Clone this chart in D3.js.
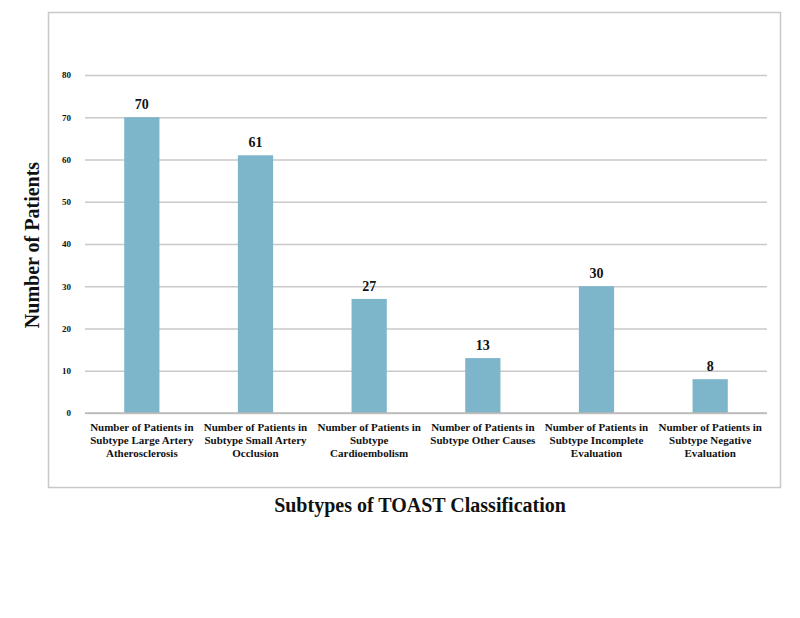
<!DOCTYPE html>
<html><head><meta charset="utf-8">
<script src="https://cdn.jsdelivr.net/npm/d3@7"></script>
<style>body{margin:0;background:#fff}svg{display:block}text{font-family:"Liberation Serif","Times New Roman",serif;font-weight:bold;fill:#111}</style>
</head><body><svg id="c" width="800" height="618"></svg>
<script>
const categories = [
  ["Number of Patients in","Subtype Large Artery","Atherosclerosis"],
  ["Number of Patients in","Subtype Small Artery","Occlusion"],
  ["Number of Patients in","Subtype","Cardioembolism"],
  ["Number of Patients in","Subtype Other Causes"],
  ["Number of Patients in","Subtype Incomplete","Evaluation"],
  ["Number of Patients in","Subtype Negative","Evaluation"]
];
const values = [70, 61, 27, 13, 30, 8];
const yTicks = [0,10,20,30,40,50,60,70,80];

const svg = d3.select("#c");
svg.append("rect").attr("x",48.5).attr("y",12.5).attr("width",732).attr("height",475)
  .attr("fill","#fff").attr("stroke","#c8c8c8").attr("stroke-width",1.5);

const L=85, R=767, T=75, B=413;
const x = d3.scaleBand().domain(d3.range(values.length)).range([L,R]).paddingInner(0.69).paddingOuter(0.345);
const y = d3.scaleLinear().domain([0,80]).range([B,T]);

const yAxis = svg.append("g").attr("transform",`translate(${L},0)`)
  .call(d3.axisLeft(y).tickValues(yTicks).tickSize(-(R-L)).tickPadding(14));
yAxis.select(".domain").remove();
yAxis.selectAll("line").attr("stroke","#c9c9c9").attr("stroke-width",1.5);
yAxis.selectAll("text").style("font-size","9px").style("font-family","Liberation Serif").style("font-weight","bold").style("fill","#111");

svg.selectAll("rect.bar").data(values).join("rect").attr("class","bar")
  .attr("x",(d,i)=>x(i)).attr("width",x.bandwidth())
  .attr("y",d=>y(d)).attr("height",d=>B-y(d)).attr("fill","#7db5cb");

svg.append("line").attr("x1",L).attr("x2",R).attr("y1",B).attr("y2",B).attr("stroke","#b8b8b8").attr("stroke-width",1.5);

svg.selectAll("text.val").data(values).join("text").attr("class","val")
  .attr("x",(d,i)=>x(i)+x.bandwidth()/2).attr("y",d=>y(d)-8)
  .attr("text-anchor","middle").style("font-size","14px").text(d=>d);

const cl = svg.selectAll("text.cat").data(categories).join("text").attr("class","cat")
  .attr("text-anchor","middle").style("font-size","11px")
  .attr("transform",(d,i)=>`translate(${x(i)+x.bandwidth()/2},431)`);
cl.selectAll("tspan").data(d=>d).join("tspan").attr("x",0).attr("dy",(d,j)=>j?13:0).text(d=>d);

svg.append("text").attr("transform","translate(39,245) rotate(-90)").attr("text-anchor","middle")
  .style("font-size","20px").text("Number of Patients");
svg.append("text").attr("x",420).attr("y",512).attr("text-anchor","middle")
  .style("font-size","20px").text("Subtypes of TOAST Classification");
</script></body></html>
